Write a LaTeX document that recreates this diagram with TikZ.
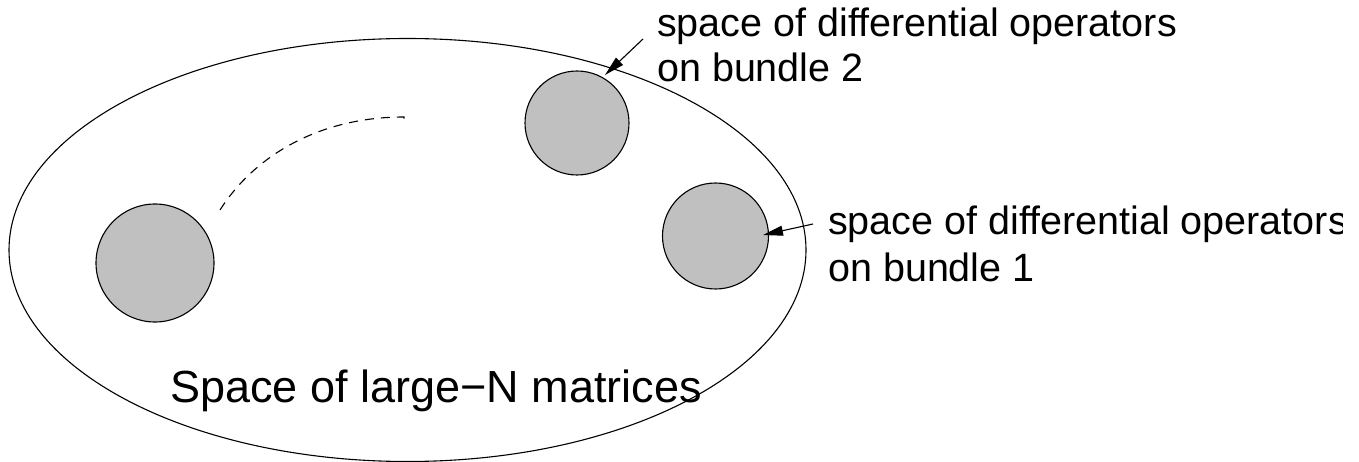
\documentclass[tikz,border=0pt]{standalone}
\usepackage{fontspec}
\setmainfont{Liberation Sans}
\usetikzlibrary{arrows.meta,shapes.geometric}
\definecolor{blobgray}{RGB}{192,192,192}
\tikzset{
  outline/.style={draw=black,line width=1.1pt},
  blob/.style={circle,outline,fill=blobgray,inner sep=0pt},
  lbl/.style={anchor=base west,inner sep=0pt,font=\fontsize{39.5}{45}\selectfont},
  biglbl/.style={anchor=base west,inner sep=0pt,font=\fontsize{45}{52}\selectfont},
  pointer/.style={line width=1.1pt,-{Triangle[length=20pt,width=10pt]}},
  orbit/.style={line width=1.1pt,dash pattern=on 9pt off 7pt}
}
\begin{document}
\begin{tikzpicture}[x=1pt,y=-1pt]
\useasboundingbox (0,0) rectangle (1359,462);
\clip (0,0) rectangle (1342,462);
\node[ellipse,outline,minimum width=797pt,minimum height=423pt,inner sep=0pt] (space) at (407.5,250) {};
\node[blob,minimum size=118pt] (c0) at (155,263) {};
\node[blob,minimum size=104pt] (c2) at (577,123) {};
\node[blob,minimum size=106pt] (c1) at (715.5,236) {};
\node[lbl] (l2a) at (657,37) {space of differential operators};
\node[lbl] (l2b) at (657,82) {on bundle 2};
\node[lbl] (l1a) at (828,235) {space of differential operators};
\node[lbl] (l1b) at (828,281) {on bundle 1};
\node[biglbl] (main) at (170,402) {Space of large\textminus N matrices};
\coordinate (tail2) at (643,39);
\coordinate (tip2) at (605,75);
\coordinate (tail1) at (813,224);
\coordinate (tip1) at (763,235);
\draw[pointer] (tail2) -- (tip2);
\draw[pointer] (tail1) -- (tip1);
\coordinate (o1) at (220,210);
\coordinate (o2) at (404,117);
\coordinate (o3) at (404,124);
\draw[orbit] (o1) .. controls (255,155) and (320,117) .. (o2) -- (o3);
\end{tikzpicture}
\end{document}
